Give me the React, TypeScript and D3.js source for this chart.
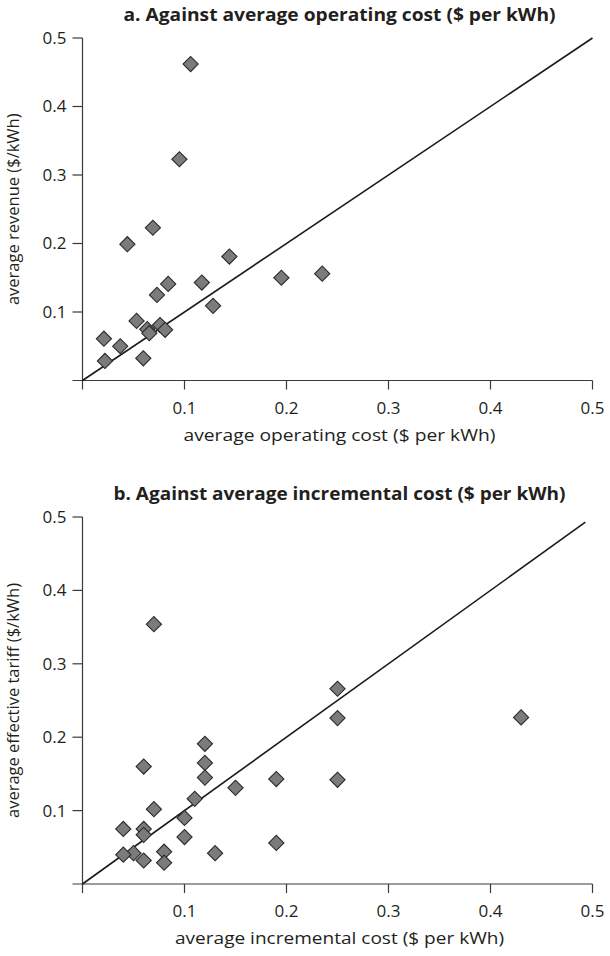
import React from "react";
import * as d3 from "d3";

// ---------- data ----------
const tickValues = [0.1, 0.2, 0.3, 0.4, 0.5];
const tickLabels = ["0.1", "0.2", "0.3", "0.4", "0.5"];

// Panel a: average operating cost vs average revenue
const opCost = [0.106, 0.095, 0.069, 0.044, 0.144, 0.084, 0.073, 0.117, 0.128, 0.195, 0.235, 0.053, 0.0635, 0.0655, 0.076, 0.081, 0.021, 0.037, 0.022, 0.0596];
const revenue = [0.462, 0.323, 0.223, 0.199, 0.181, 0.141, 0.125, 0.143, 0.109, 0.150, 0.156, 0.087, 0.075, 0.069, 0.081, 0.074, 0.061, 0.050, 0.0285, 0.0324];

// Panel b: average incremental cost vs average effective tariff
const incCost = [0.25, 0.25, 0.25, 0.19, 0.19, 0.15, 0.12, 0.12, 0.12, 0.11, 0.10, 0.10, 0.13, 0.08, 0.08, 0.07, 0.06, 0.06, 0.06, 0.06, 0.05, 0.04, 0.04, 0.07, 0.43];
const tariff = [0.266, 0.226, 0.142, 0.143, 0.056, 0.131, 0.191, 0.165, 0.145, 0.116, 0.090, 0.064, 0.042, 0.044, 0.029, 0.102, 0.160, 0.075, 0.067, 0.032, 0.042, 0.075, 0.040, 0.354, 0.227];

// reference (equality) lines
const lineAX = [0, 0.5];
const lineAY = [0, 0.5];
const lineBX = [0, 0.493];
const lineBY = [0, 0.493];

const titleA = "a. Against average operating cost ($ per kWh)";
const titleB = "b. Against average incremental cost ($ per kWh)";
const xLabelA = "average operating cost ($ per kWh)";
const xLabelB = "average incremental cost ($ per kWh)";
const yLabelA = "average revenue ($/kWh)";
const yLabelB = "average effective tariff ($/kWh)";

const FONT = "'Open Sans', 'Noto Sans', sans-serif";

type PanelProps = {
  title: string;
  titleLen: number;
  xLabel: string;
  xLabelLen: number;
  yLabel: string;
  xs: number[];
  ys: number[];
  lx: number[];
  ly: number[];
  top: number;
  bottom: number;
};

function Panel({ title, titleLen, xLabel, xLabelLen, yLabel, xs, ys, lx, ly, top, bottom }: PanelProps) {
  const x = d3.scaleLinear().domain([0, 0.5]).range([82.5, 592.5]);
  const y = d3.scaleLinear().domain([0, 0.5]).range([bottom, top]);
  const diamond = d3.symbol().type(d3.symbolSquare).size(115)() as string;
  const line = d3
    .line<number>()
    .x((d) => x(lx[d]))
    .y((d) => y(ly[d]));
  const cx = (x(0) + x(0.5)) / 2 + 2;
  const axisColor = "#3a3a3a";
  const textColor = "#231f20";
  return (
    <g>
      <text
        x={cx}
        y={top - 17}
        textAnchor="middle"
        fontFamily={FONT}
        fontWeight="bold"
        fontSize={17.5}
        fill={textColor}
        textLength={titleLen}
        lengthAdjust="spacingAndGlyphs"
      >
        {title}
      </text>
      {/* y axis */}
      <line x1={x(0)} x2={x(0)} y1={y(0.5)} y2={y(0) + 9} stroke={axisColor} strokeWidth={1.2} />
      {tickValues.map((t, i) => (
        <g key={"yt" + i}>
          <line x1={x(0) - 10} x2={x(0)} y1={y(t)} y2={y(t)} stroke={axisColor} strokeWidth={1.2} />
          <text
            x={x(0) - 16}
            y={y(t)}
            dy="0.35em"
            textAnchor="end"
            fontFamily={FONT}
            fontSize={17}
            fill={textColor}
          >
            {tickLabels[i]}
          </text>
        </g>
      ))}
      {/* x axis */}
      <line x1={x(0) - 10} x2={x(0.5)} y1={y(0)} y2={y(0)} stroke={axisColor} strokeWidth={1.2} />
      {tickValues.map((t, i) => (
        <g key={"xt" + i}>
          <line x1={x(t)} x2={x(t)} y1={y(0)} y2={y(0) + 9} stroke={axisColor} strokeWidth={1.2} />
          <text
            x={x(t)}
            y={y(0) + 33}
            textAnchor="middle"
            fontFamily={FONT}
            fontSize={17}
            fill={textColor}
          >
            {tickLabels[i]}
          </text>
        </g>
      ))}
      <text
        x={cx}
        y={y(0) + 60}
        textAnchor="middle"
        fontFamily={FONT}
        fontSize={17}
        fill={textColor}
        textLength={xLabelLen}
        lengthAdjust="spacingAndGlyphs"
      >
        {xLabel}
      </text>
      <text
        transform={`translate(19,${(y(0) + y(0.5)) / 2}) rotate(-90)`}
        textAnchor="middle"
        fontFamily={FONT}
        fontSize={16.5}
        fill={textColor}
      >
        {yLabel}
      </text>
      {/* equality line */}
      <path d={line(d3.range(lx.length)) as string} fill="none" stroke="#1a1a1a" strokeWidth={1.6} />
      {/* points */}
      {xs.map((v, i) => (
        <path
          key={"p" + i}
          d={diamond}
          transform={`translate(${x(v)},${y(ys[i])}) rotate(45)`}
          fill="#7b7b7b"
          stroke="#2b2b2b"
          strokeWidth={1.1}
        />
      ))}
    </g>
  );
}

export default function App() {
  return (
    <svg
      width={610}
      height={956}
      style={{ position: "absolute", left: 0, top: 0, background: "#fff" }}
    >
      <rect width={610} height={956} fill="#fff" />
      <Panel
        title={titleA}
        titleLen={432}
        xLabel={xLabelA}
        xLabelLen={312}
        yLabel={yLabelA}
        xs={opCost}
        ys={revenue}
        lx={lineAX}
        ly={lineAY}
        top={38}
        bottom={380.5}
      />
      <Panel
        title={titleB}
        titleLen={452}
        xLabel={xLabelB}
        xLabelLen={329}
        yLabel={yLabelB}
        xs={incCost}
        ys={tariff}
        lx={lineBX}
        ly={lineBY}
        top={517}
        bottom={884}
      />
    </svg>
  );
}
